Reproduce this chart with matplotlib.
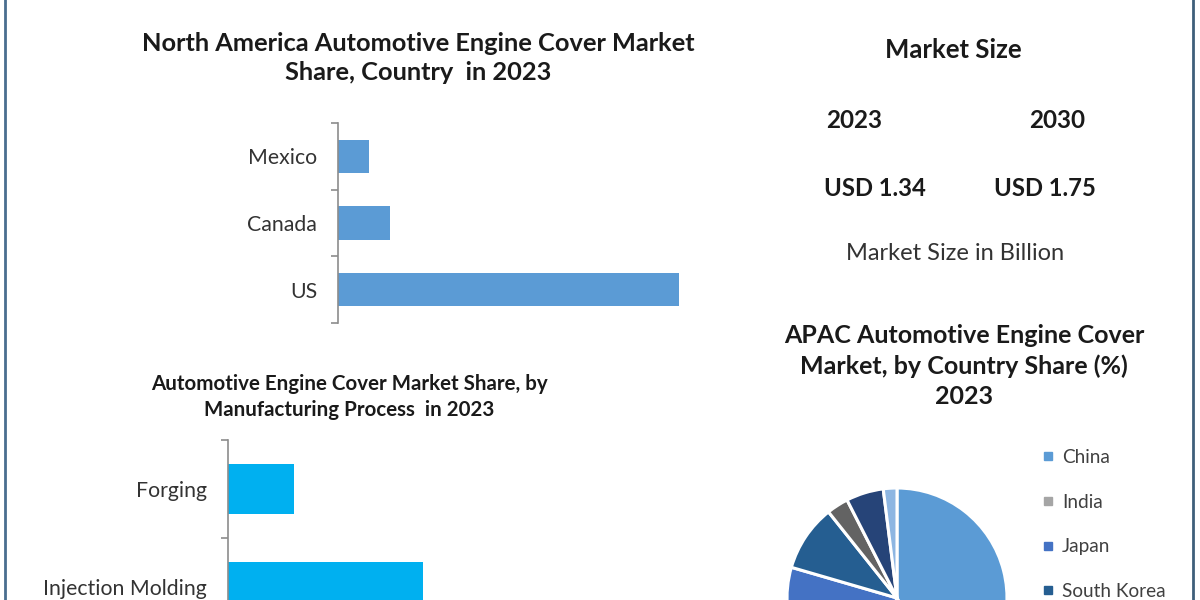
import matplotlib.pyplot as plt
from matplotlib.lines import Line2D

# North America share by country (bars)
na_countries = ["US", "Canada", "Mexico"]
na_share = [78, 12, 7]

# share by manufacturing process (third bar is cut off in the source)
process_names = ["Injection Molding", "Forging"]
process_share = [65, 22]

# market size
size_years = ["2023", "2030"]
size_values = ["USD 1.34", "USD 1.75"]

# APAC share by country (only the first four legend rows fit in the frame)
apac_countries = ["China", "India", "Japan", "South Korea", "Australia", "Indonesia", "Rest of APAC"]
apac_share = [42, 14, 23.5, 9.8, 3.2, 5.5, 2]
apac_colors = ["#5B9BD5", "#A5A5A5", "#4472C4", "#255E91", "#636363", "#264478", "#8DB6E2"]
legend_rows = 4

W, H = 1200, 600
FONT = "Lato"
plt.rcParams["font.family"] = [FONT, "DejaVu Sans"]
TXT = "#1a1a1a"


def box(x0, y0, x1, y1):
    # pixel box (top-left origin) -> figure fractions
    return [x0 / W, 1 - y1 / H, (x1 - x0) / W, (y1 - y0) / H]


fig = plt.figure(figsize=(12, 6), dpi=100)

# frame lines at left and right
fig.add_artist(Line2D([5 / W, 5 / W], [0, 1], color="#4A6E8F", lw=2))
fig.add_artist(Line2D([1193 / W, 1193 / W], [0, 1], color="#3F5F7A", lw=2))


def style_bar_axis(ax, labels, fs):
    n = len(labels)
    ax.set_ylim(-0.5, n - 0.5)
    for s in ["top", "right", "bottom"]:
        ax.spines[s].set_visible(False)
    ax.spines["left"].set_color("#8c8c8c")
    ax.spines["left"].set_linewidth(1.2)
    ax.set_xticks([])
    ax.set_yticks([i - 0.5 for i in range(n + 1)])
    ax.set_yticklabels([])
    ax.tick_params(axis="y", which="major", length=5, color="#8c8c8c", width=1.2)
    ax.set_yticks(range(n), minor=True)
    ax.set_yticklabels(labels, minor=True, fontsize=fs, color="#333333")
    ax.tick_params(axis="y", which="minor", length=0, pad=15)
    ax.patch.set_alpha(0)


# top-left: North America
ax1 = fig.add_axes(box(338, 123, 679, 323))
ax1.barh(range(len(na_countries)), na_share, height=0.5, color="#5B9BD5")
ax1.set_xlim(0, max(na_share))
style_bar_axis(ax1, na_countries, 15.3)
fig.text(418 / W, 1 - 58 / H, "North America Automotive Engine Cover Market\nShare, Country  in 2023",
         ha="center", va="center", fontsize=18.3, fontweight="bold", color=TXT, linespacing=1.3)

# bottom-left: manufacturing process
ax2 = fig.add_axes(box(228, 440, 423, 636))
ax2.barh(range(len(process_names)), process_share, height=0.51, color="#00B0F0")
ax2.set_xlim(0, max(process_share))
style_bar_axis(ax2, process_names, 15.3)
fig.text(349 / W, 1 - 397 / H, "Automotive Engine Cover Market Share, by\nManufacturing Process  in 2023",
         ha="center", va="center", fontsize=14.8, fontweight="bold", color=TXT, linespacing=1.35)

# market size block
fig.text(953 / W, 1 - 50 / H, "Market Size", ha="center", va="center",
         fontsize=18.5, fontweight="bold", color=TXT)
for xc, yr in zip([854, 1057], size_years):
    fig.text(xc / W, 1 - 121 / H, yr, ha="center", va="center", fontsize=17.5, fontweight="bold", color=TXT)
for xc, v in zip([875, 1045], size_values):
    fig.text(xc / W, 1 - 188 / H, v, ha="center", va="center", fontsize=17.2, fontweight="bold", color=TXT)
fig.text(955 / W, 1 - 253 / H, "Market Size in Billion", ha="center", va="center",
         fontsize=17, color="#333333")

# APAC pie
fig.text(964 / W, 1 - 366 / H, "APAC Automotive Engine Cover\nMarket, by Country Share (%)\n2023",
         ha="center", va="center", fontsize=18, fontweight="bold", color=TXT, linespacing=1.38)
r = 110
ax3 = fig.add_axes(box(897 - r, 598 - r, 897 + r, 598 + r))
wedges, _ = ax3.pie(apac_share, colors=apac_colors, startangle=90, counterclock=False,
                    radius=1, wedgeprops=dict(edgecolor="white", linewidth=2.2))
ax3.set_xlim(-1, 1)
ax3.set_ylim(-1, 1)
ax3.set_aspect("equal")
ax3.axis("off")

handles = [Line2D([], [], marker="s", linestyle="none", markersize=6, color=c)
           for c in apac_colors[:legend_rows]]
fig.legend(handles, apac_countries[:legend_rows], loc="upper left", bbox_to_anchor=(1042 / W, 1 - 449 / H),
           frameon=False, fontsize=13.7, labelcolor="#404040", handlelength=0.6,
           handletextpad=0.45, labelspacing=1.45, borderaxespad=0, borderpad=0)

fig.savefig("out.png", dpi=100, facecolor="white")
